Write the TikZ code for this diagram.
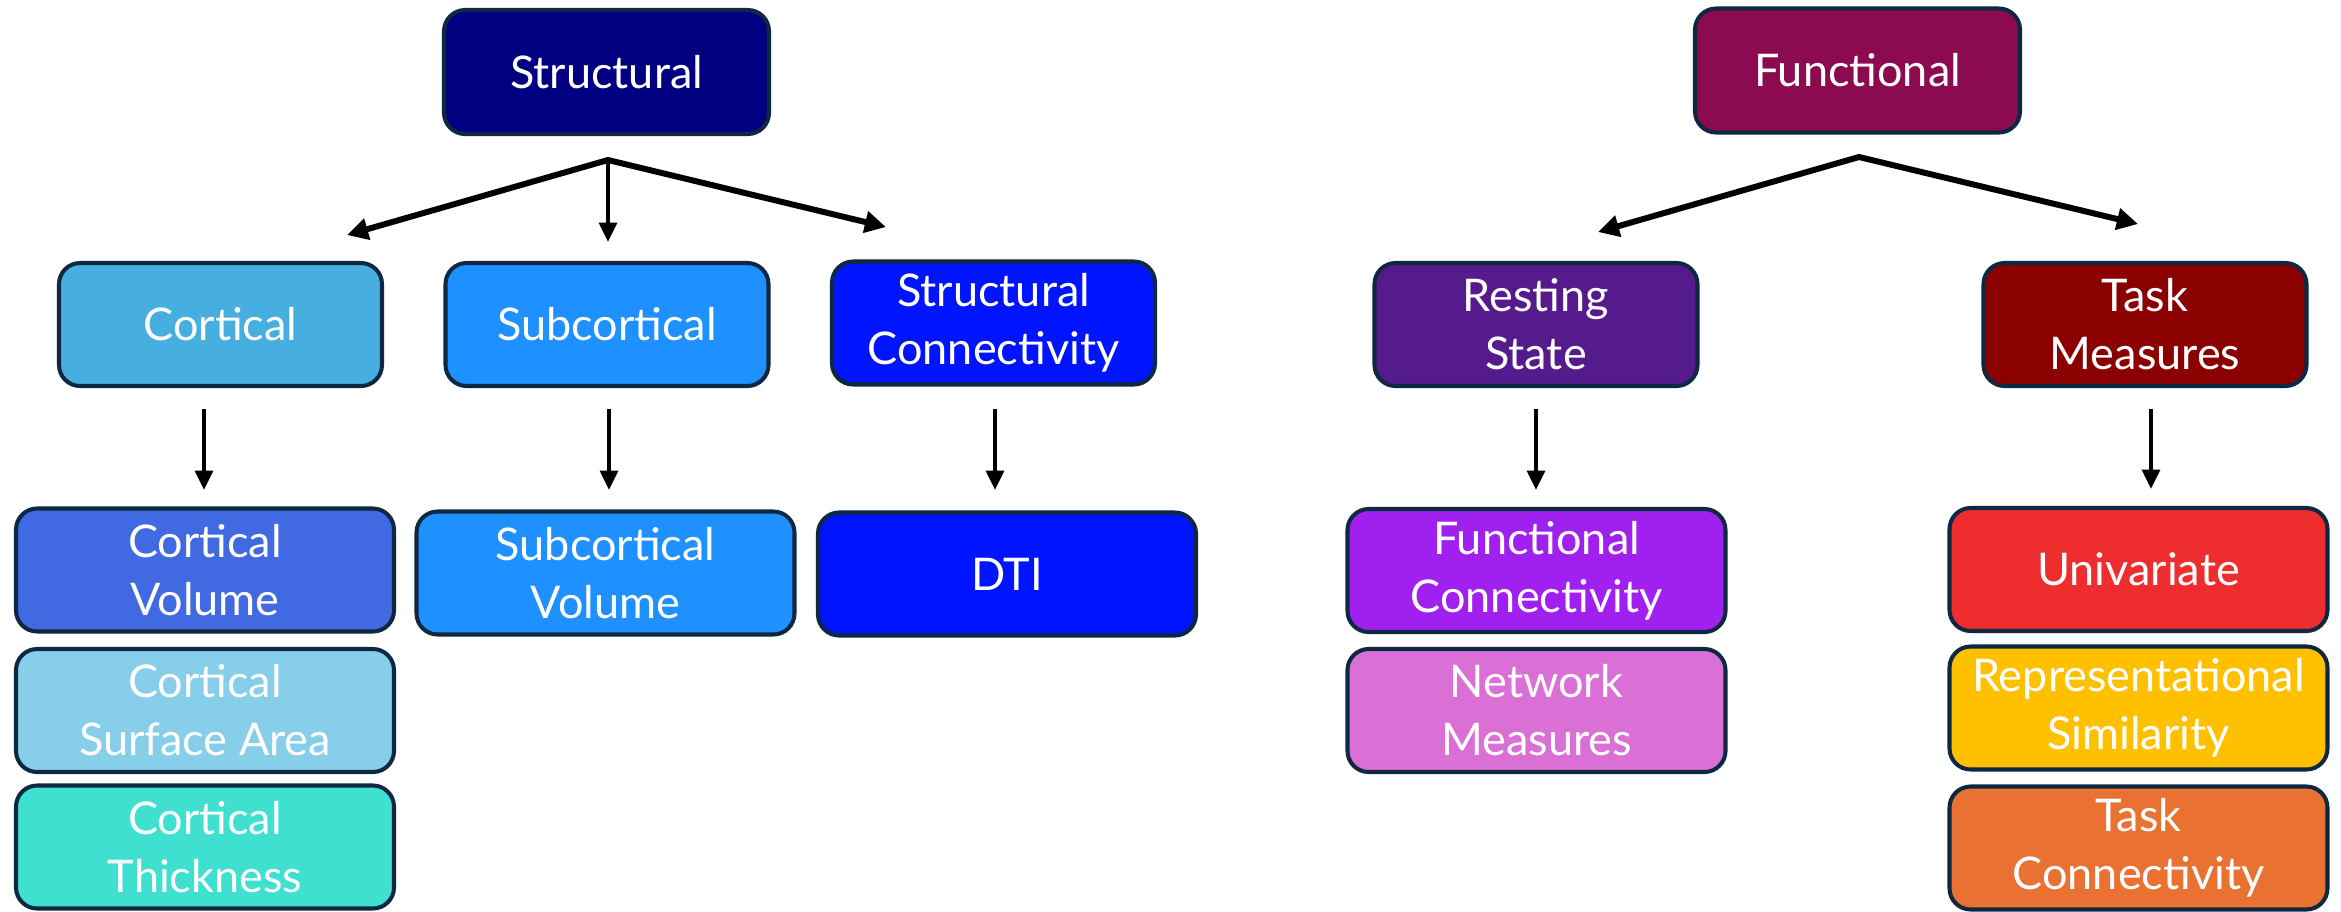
\documentclass[tikz,border=0pt]{standalone}
\usepackage{fontspec}
\setmainfont{Lato}
\usetikzlibrary{arrows.meta}

\definecolor{edgeC}{HTML}{0E2841}
\definecolor{cStructural}{HTML}{000080}
\definecolor{cFunctional}{HTML}{8B0A50}
\definecolor{cCortical}{HTML}{47AFE0}
\definecolor{cSubcortical}{HTML}{1E90FF}
\definecolor{cStructConn}{HTML}{0014FF}
\definecolor{cCortVol}{HTML}{4169E1}
\definecolor{cCortSurf}{HTML}{87CEEB}
\definecolor{cCortThick}{HTML}{40E0D0}
\definecolor{cResting}{HTML}{551A8B}
\definecolor{cTask}{HTML}{8B0000}
\definecolor{cFuncConn}{HTML}{A020F0}
\definecolor{cNetwork}{HTML}{DA70D6}
\definecolor{cUnivariate}{HTML}{EE2E2E}
\definecolor{cRSA}{HTML}{FFC000}
\definecolor{cTaskConn}{HTML}{E97132}

\newlength{\pxu}
\setlength{\pxu}{0.01cm}

\tikzset{
  box/.style={draw=edgeC, line width=1.15pt, rounded corners=6pt,
    text=white, align=center, inner sep=0pt,
    font=\fontsize{12.8}{16.5}\selectfont},
  topbox/.style={box, minimum width=325\pxu, minimum height=124\pxu},
  midbox/.style={box, minimum width=323\pxu, minimum height=123\pxu},
  leafbox/.style={box, minimum width=378\pxu, minimum height=123\pxu},
  splitarrow/.style={line width=1.7pt, line join=miter,
    {Triangle[length=6pt,width=6pt]}-{Triangle[length=6pt,width=6pt]}},
  downarrow/.style={line width=1.15pt, -{Triangle[length=5.5pt,width=5pt]}},
}

\begin{document}
\begin{tikzpicture}[x=0.01cm, y=-0.01cm]
  \useasboundingbox (0,0) rectangle (2341,911);
  \clip (0,0) rectangle (2341,911);

  % top level
  \node[topbox, fill=cStructural] (structural) at (606.5,72) {Structural};
  \node[topbox, fill=cFunctional] (functional) at (1857.5,70.5) {Functional};

  % second level
  \node[midbox, fill=cCortical]    (cortical)    at (220.5,324.5) {Cortical};
  \node[midbox, fill=cSubcortical] (subcortical) at (607,324.5)   {Subcortical};
  \node[midbox, fill=cStructConn]  (structconn)  at (993.5,323)   {Structural\\Connectivity};
  \node[midbox, fill=cResting]     (resting)     at (1536,324.5)  {Resting\\State};
  \node[midbox, fill=cTask]        (task)        at (2145,324.5)  {Task\\Measures};

  % measures
  \node[leafbox, fill=cCortVol]    (cortvol)   at (205,570)    {Cortical\\Volume};
  \node[leafbox, fill=cCortSurf]   (cortsurf)  at (205,710.5)  {Cortical\\Surface Area};
  \node[leafbox, fill=cCortThick]  (cortthick) at (205,847)    {Cortical\\Thickness};
  \node[leafbox, fill=cSubcortical](subvol)    at (605.5,573)  {Subcortical\\Volume};
  \node[leafbox, fill=cStructConn] (dti)       at (1007,574)   {DTI};
  \node[leafbox, fill=cFuncConn]   (funcconn)  at (1536.5,570.5) {Functional\\Connectivity};
  \node[leafbox, fill=cNetwork]    (network)   at (1536.5,710.5) {Network\\Measures};
  \node[leafbox, fill=cUnivariate] (univar)    at (2138.5,569.5) {Univariate};
  \node[leafbox, fill=cRSA]        (rsa)       at (2138.5,708)   {Representational\\Similarity};
  \node[leafbox, fill=cTaskConn]   (taskconn)  at (2138.5,848)   {Task\\Connectivity};

  % branching points and arrow ends
  \coordinate (hubS)   at (608,160);
  \coordinate (toCort) at (347,235);
  \coordinate (toSub)  at (608,242);
  \coordinate (toConn) at (886,227);
  \coordinate (hubF)   at (1859,157);
  \coordinate (toRest) at (1598,232);
  \coordinate (toTask) at (2138,224);

  \draw[splitarrow] (toCort) -- (hubS) -- (toConn);
  \draw[downarrow] (hubS) -- (toSub);
  \draw[splitarrow] (toRest) -- (hubF) -- (toTask);

  % second level to measures
  \coordinate (c1a) at (204,409);  \coordinate (c1b) at (204,490);
  \coordinate (c2a) at (609,409);  \coordinate (c2b) at (609,490);
  \coordinate (c3a) at (995,409);  \coordinate (c3b) at (995,490);
  \coordinate (c4a) at (1536,409); \coordinate (c4b) at (1536,490);
  \coordinate (c5a) at (2151,409); \coordinate (c5b) at (2151,489);
  \draw[downarrow] (c1a) -- (c1b);
  \draw[downarrow] (c2a) -- (c2b);
  \draw[downarrow] (c3a) -- (c3b);
  \draw[downarrow] (c4a) -- (c4b);
  \draw[downarrow] (c5a) -- (c5b);
\end{tikzpicture}
\end{document}
